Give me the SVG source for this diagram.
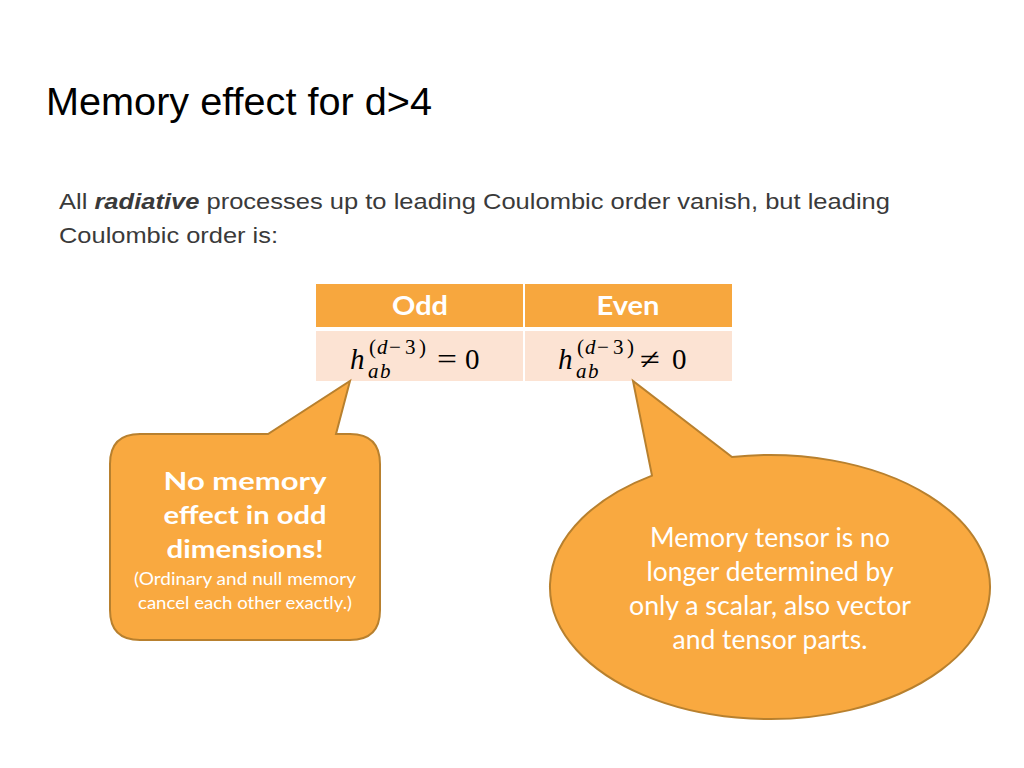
<svg xmlns="http://www.w3.org/2000/svg" width="1024" height="768" viewBox="0 0 1024 768">
<style>
.sans{font-family:"Liberation Sans",Arial,sans-serif;fill:#3a3a3a}
.gill{font-family:Lato,"Open Sans",sans-serif;fill:#fff;text-anchor:middle}
.math{font-family:"Liberation Serif","DejaVu Serif",serif;fill:#000}
.it{font-style:italic}
.bubble{fill:#F9A940;stroke:#B8802E;stroke-width:2}
</style>
<rect width="1024" height="768" fill="#fff"/>
<text x="46" y="115" font-size="38" font-family="Liberation Sans, Arial, sans-serif" fill="#000" textLength="386" lengthAdjust="spacingAndGlyphs">Memory effect for d&gt;4</text>
<text class="sans" x="59" y="209" font-size="22" textLength="831" lengthAdjust="spacingAndGlyphs">All <tspan font-weight="bold" font-style="italic">radiative</tspan> processes up to leading Coulombic order vanish, but leading</text>
<text class="sans" x="59" y="243" font-size="22" textLength="219" lengthAdjust="spacingAndGlyphs">Coulombic order is:</text>
<g id="table">
<rect x="316" y="284" width="207" height="43" fill="#F7A73E"/>
<rect x="525" y="284" width="207" height="43" fill="#F7A73E"/>
<rect x="316" y="331" width="207" height="50" fill="#FCE3D3"/>
<rect x="525" y="331" width="207" height="50" fill="#FCE3D3"/>
<text class="gill" x="420" y="315" font-size="26" font-weight="bold" textLength="56" lengthAdjust="spacingAndGlyphs">Odd</text>
<text class="gill" x="628" y="315" font-size="26" font-weight="bold" textLength="63" lengthAdjust="spacingAndGlyphs">Even</text>
<text class="math it" x="350" y="369" font-size="29">h</text>
<text class="math" y="354" font-size="21"><tspan x="369">(</tspan><tspan class="it" x="377">d</tspan><tspan x="389">−</tspan><tspan x="405">3</tspan><tspan x="419">)</tspan></text>
<text class="math it" y="378" font-size="21"><tspan x="368">a</tspan><tspan x="380">b</tspan></text>
<text class="math" x="437" y="369" font-size="29" textLength="20" lengthAdjust="spacingAndGlyphs">=</text>
<text class="math" x="465" y="369" font-size="29">0</text>
<text class="math it" x="558" y="369" font-size="29">h</text>
<text class="math" y="354" font-size="21"><tspan x="577">(</tspan><tspan class="it" x="585">d</tspan><tspan x="597">−</tspan><tspan x="613">3</tspan><tspan x="627">)</tspan></text>
<text class="math it" y="378" font-size="21"><tspan x="576">a</tspan><tspan x="588">b</tspan></text>
<text class="math" x="640" y="369" font-size="29" textLength="20" lengthAdjust="spacingAndGlyphs">≠</text>
<text class="math" x="672" y="369" font-size="29">0</text>
</g>
<g id="callout-odd">
<path class="bubble" d="M140,434 L268,434 L350,381 L336,434 L350,434 Q380,434 380,464 L380,610 Q380,640 350,640 L140,640 Q110,640 110,610 L110,464 Q110,434 140,434 Z"/>
<text class="gill" x="245" y="490" font-size="25" font-weight="bold" textLength="163" lengthAdjust="spacingAndGlyphs">No memory</text>
<text class="gill" x="245" y="524" font-size="25" font-weight="bold" textLength="163" lengthAdjust="spacingAndGlyphs">effect in odd</text>
<text class="gill" x="245" y="558" font-size="25" font-weight="bold" textLength="157" lengthAdjust="spacingAndGlyphs">dimensions!</text>
<text class="gill" x="245" y="585" font-size="17" textLength="222" lengthAdjust="spacingAndGlyphs">(Ordinary and null memory</text>
<text class="gill" x="245" y="609" font-size="17" textLength="214" lengthAdjust="spacingAndGlyphs">cancel each other exactly.)</text>
</g>
<g id="callout-even">
<path class="bubble" d="M652,475.6 L633,381 L732,457 A220,132 0 1 1 652,475.6 Z"/>
<text class="gill" x="770" y="547" font-size="26" textLength="240" lengthAdjust="spacingAndGlyphs">Memory tensor is no</text>
<text class="gill" x="770" y="581" font-size="26" textLength="247" lengthAdjust="spacingAndGlyphs">longer determined by</text>
<text class="gill" x="770" y="615" font-size="26" textLength="282" lengthAdjust="spacingAndGlyphs">only a scalar, also vector</text>
<text class="gill" x="770" y="649" font-size="26" textLength="195" lengthAdjust="spacingAndGlyphs">and tensor parts.</text>
</g>
</svg>
